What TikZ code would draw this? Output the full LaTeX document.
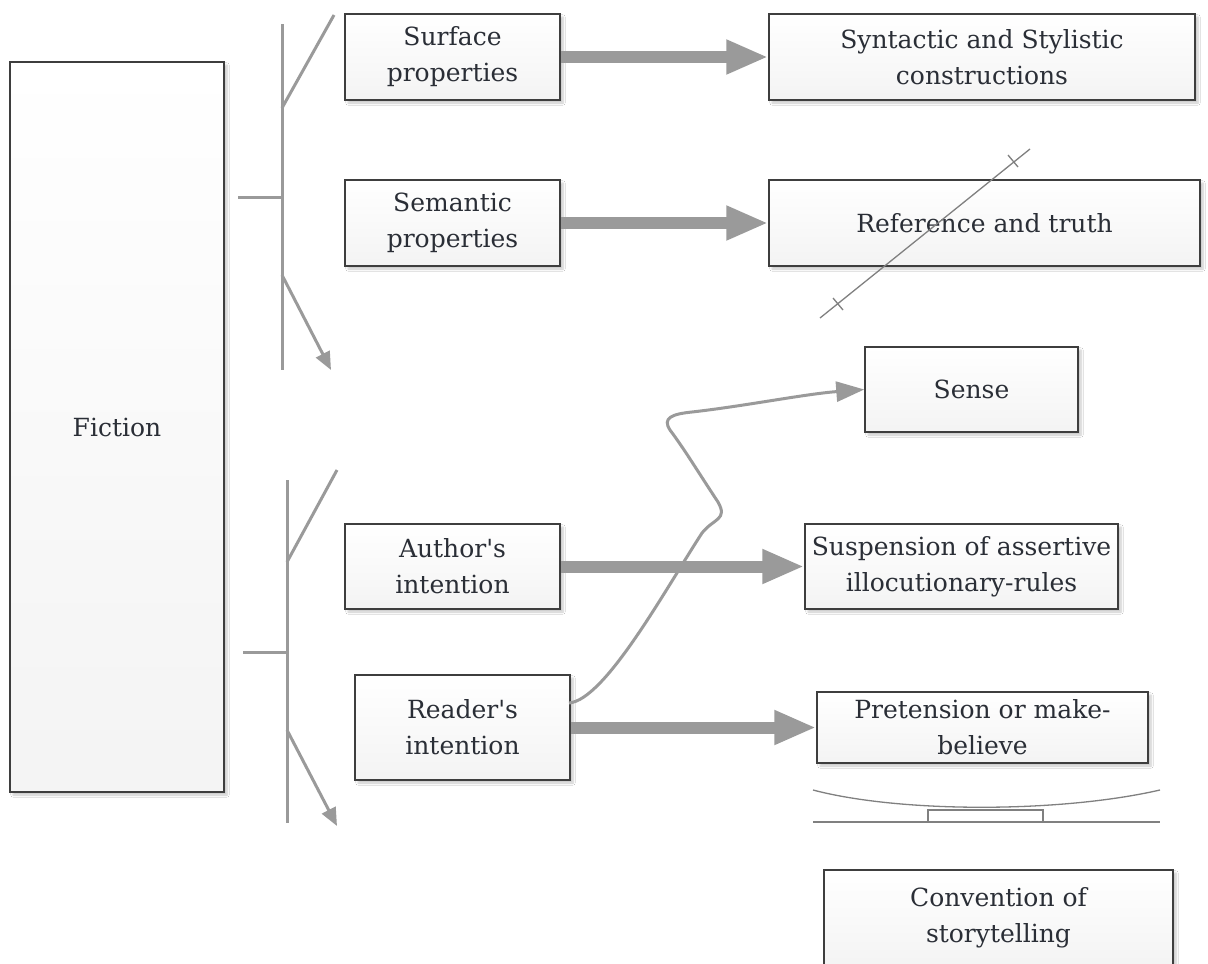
\documentclass[tikz,border=0pt]{standalone}
\usepackage{fontspec}
\setmainfont{DejaVu Serif}
\usetikzlibrary{arrows.meta,shadows.blur}
\definecolor{boxline}{HTML}{3E3E3E}
\definecolor{boxtext}{HTML}{2A2E36}
\definecolor{linkgray}{HTML}{9A9A9A}
\definecolor{thingray}{HTML}{808080}
\tikzset{
  box/.style={draw=boxline, line width=1.5pt, top color=white, bottom color=gray!9,
    text=boxtext, align=center, inner sep=2pt,
    font=\fontsize{25}{36}\selectfont,
    blur shadow={shadow xshift=3pt, shadow yshift=-3pt, shadow blur steps=6, shadow opacity=22}},
  bigarrow/.style={draw=linkgray, line width=12pt, -{Triangle[length=42pt,width=32pt]}},
  branch/.style={draw=linkgray, line width=3pt},
  brancharrow/.style={draw=linkgray, line width=3pt, -{Triangle[length=18pt,width=15pt]}},
  curvy/.style={draw=linkgray, line width=3pt, -{Triangle[length=28pt,width=20pt]}},
  fine/.style={draw=thingray, line width=1.3pt}
}
\begin{document}
\begin{tikzpicture}[x=1pt,y=-1pt]
\useasboundingbox (0,0) rectangle (1208,964);
\fill[white] (0,0) rectangle (1208,964);

% boxes
\node[box, minimum width=214pt, minimum height=730pt] (fic) at (117,427) {Fiction};
\node[box, minimum width=215pt, minimum height=86pt] (surf) at (452.5,57) {Surface\\properties};
\node[box, minimum width=426pt, minimum height=86pt] (synt) at (982,57) {Syntactic and Stylistic\\constructions};
\node[box, minimum width=215pt, minimum height=86pt] (sem) at (452.5,223) {Semantic\\properties};
\node[box, minimum width=431pt, minimum height=86pt] (ref) at (984.5,223) {Reference and truth};
\node[box, minimum width=213pt, minimum height=85pt] (sense) at (971.5,389.5) {Sense};
\node[box, minimum width=215pt, minimum height=85pt] (auth) at (452.5,566.5) {Author\textquotesingle s\\intention};
\node[box, minimum width=313pt, minimum height=85pt] (susp) at (961.5,566.5) {Suspension of assertive\\illocutionary-rules};
\node[box, minimum width=215pt, minimum height=105pt] (read) at (462.5,727.5) {Reader\textquotesingle s\\intention};
\node[box, minimum width=331pt, minimum height=71pt] (pret) at (982.5,727.5) {Pretension or make-\\believe};
\node[box, minimum width=349pt, minimum height=96pt] (conv) at (998.5,918) {Convention of\\storytelling};

% thick arrows
\draw[bigarrow] (surf.east) -- (synt.west);
\draw[bigarrow] (sem.east) -- (sem.east -| ref.west);
\draw[bigarrow] (auth.east) -- (susp.west);
\draw[bigarrow] (read.east) -- (pret.west);

% upper branching
\coordinate (ua) at (238,197);
\coordinate (ub) at (282,197);
\coordinate (ut) at (282,24);
\coordinate (ubt) at (282,370);
\coordinate (ud1) at (282,108);
\coordinate (ud2) at (334,15);
\coordinate (ue1) at (282,275);
\coordinate (ue2) at (331,370);
\draw[branch] (ua) -- (ub);
\draw[branch] (ut) -- (ubt);
\draw[branch] (ud1) -- (ud2);
\draw[brancharrow] (ue1) -- (ue2);

% lower branching
\coordinate (la) at (243,652);
\coordinate (lb) at (287,652);
\coordinate (lt) at (287,480);
\coordinate (lbt) at (287,823);
\coordinate (ld1) at (287,562);
\coordinate (ld2) at (337,470);
\coordinate (le1) at (287,730);
\coordinate (le2) at (337,826);
\draw[branch] (la) -- (lb);
\draw[branch] (lt) -- (lbt);
\draw[branch] (ld1) -- (ld2);
\draw[brancharrow] (le1) -- (le2);

% winding link from the reader to sense
\coordinate (rs) at (569,703);
\draw[curvy] (rs) .. controls (605,700) and (665,590) .. (702,533)
  .. controls (714,518) and (728,520) .. (718,502)
  .. controls (700,475) and (685,450) .. (670,430)
  .. controls (662,418) and (672,414) .. (692,412)
  .. controls (745,406) and (805,394) .. (sense.west);

% struck-through line over reference and truth
\coordinate (s1) at (820,318);
\coordinate (s2) at (1030,149);
\draw[fine] (s1) -- (s2);
\draw[fine] (833,298) -- (843,310);
\draw[fine] (1008,155) -- (1018,167);

% bracket shape under pretension
\coordinate (b1) at (813,790);
\coordinate (b2) at (1160,790);
\draw[fine] (b1) .. controls (900,813) and (1060,813) .. (b2);
\draw[fine] (813,822) -- (1160,822);
\draw[fine] (928,822) -- (928,810) -- (1043,810) -- (1043,822);
\end{tikzpicture}
\end{document}
